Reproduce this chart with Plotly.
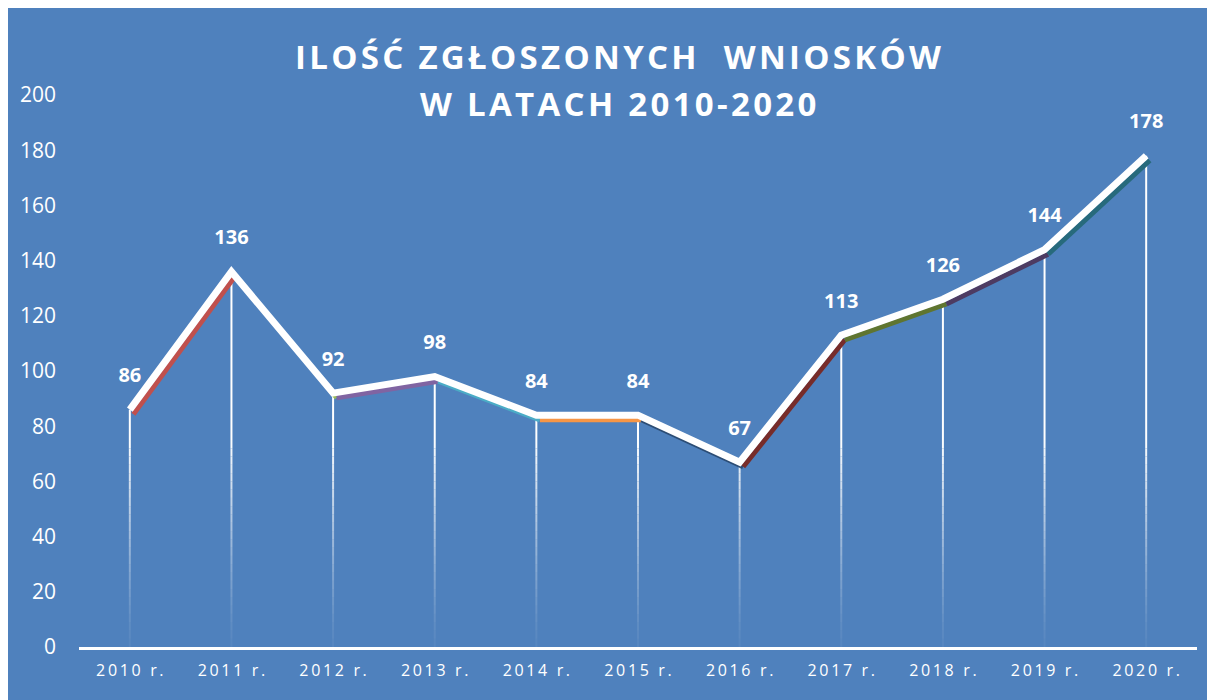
import plotly.graph_objects as go

# ── Data ─────────────────────────────────────────────────────────────────────
years = ["2010 r.", "2011 r.", "2012 r.", "2013 r.", "2014 r.", "2015 r.",
         "2016 r.", "2017 r.", "2018 r.", "2019 r.", "2020 r."]
counts = [86, 136, 92, 98, 84, 84, 67, 113, 126, 144, 178]
y_ticks = [0, 20, 40, 60, 80, 100, 120, 140, 160, 180, 200]

# one shadow colour per segment (Excel "vary colours by point")
shadow_colors = ["#c0504d", "#9bbb59", "#8064a2", "#4bacc6", "#f79646",
                 "#2c4d75", "#772c2a", "#5f7530", "#4d3b62", "#276a7c"]

BLUE = "#4f81bd"
FONT = "Open Sans, sans-serif"


def spaced(text, gap="\u2009"):
    """Fake letter-spacing by putting thin spaces between characters."""
    return gap.join(text)


x = list(range(len(years)))
fig = go.Figure()

# ── Drop lines, white fading to transparent near the axis ────────────────────
FADE_TOP = 75
N_BANDS = 25
for b in range(N_BANDS):
    lo = FADE_TOP * b / N_BANDS
    hi = FADE_TOP * (b + 1) / N_BANDS
    xs, ys = [], []
    for i, v in enumerate(counts):
        if v > lo:
            xs += [i, i, None]
            ys += [lo, min(v, hi), None]
    fig.add_trace(go.Scatter(
        x=xs, y=ys, mode="lines",
        line=dict(color="white", width=2),
        opacity=0.04 + 0.96 * ((b + 0.5) / N_BANDS) ** 1.3,
        hoverinfo="skip", showlegend=False,
    ))
xs, ys = [], []
for i, v in enumerate(counts):
    if v > FADE_TOP:
        xs += [i, i, None]
        ys += [FADE_TOP, v, None]
fig.add_trace(go.Scatter(x=xs, y=ys, mode="lines",
                         line=dict(color="white", width=2),
                         hoverinfo="skip", showlegend=False))

# ── Coloured shadows under each segment ──────────────────────────────────────
DX, DY = 0.035, -1.7
for i in range(len(counts) - 1):
    fig.add_trace(go.Scatter(
        x=[i + DX, i + 1 + DX],
        y=[counts[i] + DY, counts[i + 1] + DY],
        mode="lines",
        line=dict(color=shadow_colors[i], width=5),
        hoverinfo="skip", showlegend=False,
    ))

# ── Main white line ──────────────────────────────────────────────────────────
fig.add_trace(go.Scatter(
    x=x, y=counts, mode="lines",
    line=dict(color="white", width=7),
    showlegend=False,
))

# value labels, pushed up by an invisible marker
fig.add_trace(go.Scatter(
    x=x, y=counts,
    mode="markers+text",
    marker=dict(size=34, opacity=0),
    text=[str(v) for v in counts],
    textposition="top center",
    textfont=dict(family=FONT, size=20, color="white", weight="bold"),
    cliponaxis=False,
    hoverinfo="skip", showlegend=False,
))

# ── Title (two lines, letter-spaced) ─────────────────────────────────────────
PLOT_H = 552
title_lines = ["ILOŚĆ ZGŁOSZONYCH  WNIOSKÓW", "W LATACH 2010-2020"]
title_offsets = [38, -9]   # px above top of plot area
for line, off in zip(title_lines, title_offsets):
    fig.add_annotation(
        text=spaced(line, "\u200a"),
        xref="paper", yref="paper",
        x=0.482, y=1 + off / PLOT_H,
        xanchor="center", yanchor="middle",
        showarrow=False,
        font=dict(family=FONT, size=33, color="white", weight="bold"),
    )

fig.update_layout(
    width=1215, height=700,
    paper_bgcolor=BLUE,
    plot_bgcolor=BLUE,
    margin=dict(l=69, r=26, t=87, b=61),
    font=dict(family=FONT, color="white"),
    xaxis=dict(
        range=[-0.5, len(years) - 0.5],
        tickvals=x,
        ticktext=[spaced(y) for y in years],
        tickfont=dict(size=16, color="white"),
        showgrid=False, zeroline=False,
        showline=True, linecolor="white", linewidth=3,
        ticks="", ticklabelstandoff=7, fixedrange=True,
    ),
    yaxis=dict(
        range=[0, 200],
        tickvals=y_ticks,
        tickfont=dict(size=21, color="white"),
        showgrid=False, zeroline=False, showline=False,
        ticks="", ticklabelstandoff=22,
    ),
)

fig.write_html("out.html")
